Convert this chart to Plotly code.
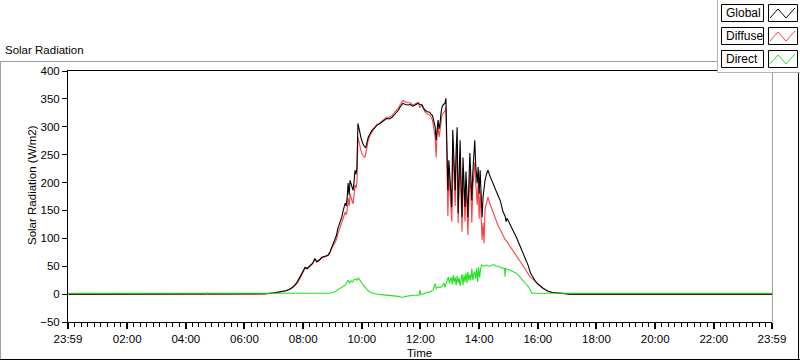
import plotly.graph_objects as go

# ---------------- data ----------------
global_time = ["00:00","06:40","06:50","07:00","07:13","07:25","07:33","07:38","07:43","07:48","07:54","07:58",
    "08:04","08:08","08:14","08:19","08:24","08:28","08:34","08:38","08:45","08:51","08:55","08:59",
    "09:05","09:08","09:11","09:15","09:19","09:22","09:26","09:28","09:30","09:32","09:34","09:36",
    "09:39","09:42","09:44","09:46","09:48","09:50","09:52","09:54","09:56","09:58","10:00","10:02",
    "10:05","10:08","10:10","10:13","10:17","10:21","10:26","10:31","10:36","10:41","10:46","10:51",
    "10:56","11:02","11:07","11:12","11:15","11:18","11:21","11:24","11:29","11:34","11:39","11:44",
    "11:49","11:55","11:59","12:03","12:06","12:09","12:14","12:19","12:22","12:24","12:26","12:28",
    "12:30","12:32","12:34","12:36","12:38","12:40","12:42","12:44","12:47","12:50","12:52","12:54",
    "12:56","12:58","13:00","13:02","13:04","13:06","13:08","13:11","13:13","13:15","13:17","13:19",
    "13:21","13:23","13:25","13:27","13:29","13:31","13:33","13:35","13:37","13:39","13:41","13:43",
    "13:45","13:47","13:49","13:51","13:53","13:56","13:58","14:00","14:02","14:04","14:06","14:08",
    "14:10","14:12","14:15","14:18","14:22","14:28","14:32","14:36","14:39","14:43","14:46","14:49",
    "14:53","14:55","14:57","15:02","15:07","15:12","15:17","15:22","15:28","15:34","15:40","15:45",
    "15:50","15:55","16:00","16:05","16:10","16:15","16:21","16:30","16:39","16:50","17:06","23:59"]
global_wm2 = [0,0,1,2,4,6,9,12,16,22,31,38,
    48,46,52,55,64,58,62,66,68,70,76,85,
    97,105,118,128,138,150,163,158,172,199,178,204,
    195,186,200,222,215,226,306,300,290,281,275,270,
    265,262,270,281,288,294,298,303,305,308,311,315,
    314,317,322,326,330,335,338,342,340,339,340,337,
    339,342,340,339,334,330,327,326,322,321,315,306,
    300,276,305,312,296,306,325,335,340,342,351,245,
    186,240,217,190,156,294,240,186,260,299,145,230,
    276,200,138,245,190,156,220,186,138,200,253,210,
    168,217,250,276,230,199,228,180,222,170,138,175,
    190,204,215,222,212,199,188,181,176,168,158,147,
    140,130,136,126,118,109,100,90,79,66,52,38,
    30,23,18,14,11,8,5,3,2,1,0,0]

diffuse_time = ["00:00","04:43","04:45","04:47","06:40","06:50","07:00","07:13","07:25","07:33","07:38","07:43",
    "07:48","07:54","07:58","08:04","08:08","08:14","08:19","08:24","08:28","08:34","08:38","08:45",
    "08:51","08:55","08:59","09:05","09:08","09:11","09:15","09:19","09:22","09:26","09:28","09:30",
    "09:32","09:34","09:36","09:39","09:42","09:44","09:46","09:48","09:50","09:52","09:54","09:56",
    "09:58","10:00","10:03","10:06","10:08","10:10","10:13","10:17","10:21","10:26","10:31","10:36",
    "10:41","10:46","10:51","10:56","11:02","11:07","11:12","11:15","11:18","11:21","11:24","11:29",
    "11:34","11:39","11:44","11:49","11:55","11:59","12:03","12:06","12:09","12:14","12:19","12:22",
    "12:24","12:26","12:28","12:30","12:32","12:34","12:36","12:38","12:40","12:42","12:44","12:47",
    "12:50","12:52","12:54","12:56","12:58","13:00","13:02","13:04","13:06","13:08","13:11","13:13",
    "13:15","13:17","13:19","13:21","13:23","13:25","13:27","13:29","13:31","13:33","13:35","13:37",
    "13:39","13:41","13:43","13:45","13:47","13:49","13:51","13:53","13:56","13:58","14:00","14:02",
    "14:04","14:06","14:08","14:10","14:12","14:15","14:18","14:22","14:28","14:32","14:36","14:39",
    "14:43","14:46","14:49","14:53","14:57","15:02","15:07","15:13","15:20","15:28","15:34","15:40",
    "15:44","15:50","15:55","16:00","16:05","16:10","16:15","16:21","16:30","16:39","16:50","17:06","23:59"]
diffuse_wm2 = [0,0,2,0,0,1,2,4,6,9,11,15,
    20,29,36,47,45,51,54,62,57,61,65,67,
    69,74,83,92,98,108,117,127,136,147,142,150,
    172,158,180,170,162,176,196,190,200,282,276,266,
    258,252,248,245,252,262,275,285,292,298,304,306,
    310,313,317,317,320,326,330,334,339,343,347,345,
    343,343,339,341,344,334,340,333,327,323,321,316,
    313,304,292,281,245,290,299,282,294,313,322,325,
    328,336,216,140,216,192,160,130,268,214,158,240,
    268,127,204,252,172,112,225,158,130,188,162,106,
    172,220,182,128,190,212,236,200,160,200,135,185,
    128,97,128,91,152,165,174,162,148,136,128,122,
    116,110,104,98,94,87,81,74,63,53,45,37,
    31,27,23,18,14,11,8,5,3,2,1,0,0]

direct_time = ["00:00","08:55","09:02","09:10","09:16","09:22","09:26","09:30","09:32","09:35","09:38","09:41",
    "09:44","09:48","09:50","09:53","09:56","10:00","10:03","10:08","10:13","10:18","10:24","10:40",
    "11:00","11:15","11:23","11:30","11:45","11:57","11:59","12:01","12:10","12:20","12:26","12:28",
    "12:30","12:32","12:36","12:40","12:44","12:48","12:50","12:52","12:55","12:57","12:59","13:01",
    "13:03","13:05","13:07","13:09","13:11","13:13","13:15","13:17","13:19","13:21","13:23","13:25",
    "13:27","13:29","13:31","13:33","13:35","13:37","13:39","13:41","13:43","13:45","13:47","13:49",
    "13:51","13:53","13:55","13:57","13:59","14:01","14:03","14:05","14:10","14:15","14:20","14:25",
    "14:30","14:35","14:40","14:46","14:52","14:53","14:54","15:00","15:05","15:10","15:17","15:23",
    "15:30","15:35","15:41","15:45","15:48","23:59"]
direct_wm2 = [1.5,1.5,3,7,11,13,16,22,25,20,24,22,
    26,27,25,29,24,20,16,10,6,3,1,-1,
    -2,-4,-6,-4,-2,-2,7,-1,2,4,8,13,
    19,10,13,12,14,20,12,18,26,31,20,24,
    30,18,34,22,30,16,33,20,29,15,26,36,
    16,34,22,38,20,40,25,35,25,46,25,38,
    40,28,46,22,48,30,45,52,50,52,50,52,
    53,50,50,47,46,31,46,44,42,40,37,31,
    25,19,13,6,1.5,1.5]

x_tick_hours = [-1/60, 2, 4, 6, 8, 10, 12, 14, 16, 18, 20, 22, 23 + 59/60]
x_tick_text = ["23:59", "02:00", "04:00", "06:00", "08:00", "10:00", "12:00",
               "14:00", "16:00", "18:00", "20:00", "22:00", "23:59"]
y_tick_vals = [-50, 0, 50, 100, 150, 200, 250, 300, 350, 400]
legend_names = ["Global", "Diffuse", "Direct"]
legend_colors = ["#000000", "#ff4040", "#1ee61e"]

# ---------------- helpers ----------------
def hours(s):
    h, m = s.split(":")
    return int(h) + int(m) / 60.0

W, H = 800, 361
L, R, T, B = 68, 28, 71, 39
PW, PH = W - L - R, H - T - B
FONT = "Liberation Sans, Arial, sans-serif"

def fx(x):
    return (x - L) / PW

def fy(y):
    return (H - B - y) / PH

fig = go.Figure()
fig.add_trace(go.Scatter(x=[hours(t) for t in diffuse_time], y=diffuse_wm2, mode="lines",
                         line=dict(color=legend_colors[1], width=1.1), name="Diffuse"))
fig.add_trace(go.Scatter(x=[hours(t) for t in global_time], y=global_wm2, mode="lines",
                         line=dict(color=legend_colors[0], width=1.1), name="Global"))
fig.add_trace(go.Scatter(x=[hours(t) for t in direct_time], y=direct_wm2, mode="lines",
                         line=dict(color=legend_colors[2], width=1.1), name="Direct"))

minor_vals = []
for a, b in zip(x_tick_hours[:-1], x_tick_hours[1:]):
    for k in range(1, 9):
        minor_vals.append(a + k * (b - a) / 9)

shapes = []
# outer frame
shapes.append(dict(type="line", xref="paper", yref="paper", x0=fx(0), x1=fx(717), y0=fy(61.5), y1=fy(61.5),
                   line=dict(color="#a0a0a0", width=1)))
shapes.append(dict(type="line", xref="paper", yref="paper", x0=fx(0.5), x1=fx(0.5), y0=fy(61.5), y1=fy(359),
                   line=dict(color="#a0a0a0", width=1)))
shapes.append(dict(type="line", xref="paper", yref="paper", x0=fx(0), x1=fx(800), y0=fy(359.5), y1=fy(359.5),
                   line=dict(color="#000000", width=1)))
shapes.append(dict(type="line", xref="paper", yref="paper", x0=fx(798.5), x1=fx(798.5), y0=fy(61), y1=fy(360),
                   line=dict(color="#000000", width=1)))
# right border of plot area
shapes.append(dict(type="line", xref="paper", yref="paper", x0=fx(772.5), x1=fx(772.5), y0=fy(71), y1=fy(322),
                   line=dict(color="#a0a0a0", width=1)))
# legend panel
shapes.append(dict(type="rect", xref="paper", yref="paper", x0=fx(717.5), x1=fx(801), y0=fy(72.5), y1=fy(-2),
                   line=dict(color="#b4b4b4", width=1), fillcolor="white"))

annotations = []
for i, (name, col) in enumerate(zip(legend_names, legend_colors)):
    y0 = 4 + i * 23
    y1 = y0 + 17
    shapes.append(dict(type="rect", xref="paper", yref="paper", x0=fx(721.5), x1=fx(763.5),
                       y0=fy(y1 + 0.5), y1=fy(y0 + 0.5), line=dict(color="black", width=1), fillcolor="white"))
    shapes.append(dict(type="rect", xref="paper", yref="paper", x0=fx(768.5), x1=fx(797.5),
                       y0=fy(y1 + 0.5), y1=fy(y0 + 0.5), line=dict(color="black", width=1), fillcolor="white"))
    pts = [(770, y0 + 14), (778, y0 + 5), (786, y0 + 14), (795, y0 + 4)]
    path = "M " + " L ".join(f"{fx(px):.5f},{fy(py):.5f}" for px, py in pts)
    shapes.append(dict(type="path", xref="paper", yref="paper", path=path, line=dict(color=col, width=1)))
    annotations.append(dict(x=fx(723.5), y=fy(y0 + 9), xref="paper", yref="paper", text=name,
                            showarrow=False, xanchor="left", yanchor="middle",
                            font=dict(family=FONT, size=12, color="black")))

annotations.append(dict(x=fx(3), y=fy(50), xref="paper", yref="paper", text="Solar Radiation",
                        showarrow=False, xanchor="left", yanchor="middle",
                        font=dict(family=FONT, size=11.5, color="black")))
annotations.append(dict(x=fx(32), y=fy(185), xref="paper", yref="paper", text="Solar Radiation (W/m2)",
                        showarrow=False, textangle=-90, xanchor="center", yanchor="middle",
                        font=dict(family=FONT, size=11.5, color="black")))
annotations.append(dict(x=fx(419), y=fy(353), xref="paper", yref="paper", text="Time",
                        showarrow=False, xanchor="center", yanchor="middle",
                        font=dict(family=FONT, size=11.5, color="black")))

fig.update_layout(
    width=W, height=H,
    margin=dict(l=L, r=R, t=T, b=B, pad=0),
    paper_bgcolor="white", plot_bgcolor="white",
    showlegend=False,
    font=dict(family=FONT, size=12, color="black"),
    shapes=shapes, annotations=annotations,
    xaxis=dict(range=[-1/60, 23 + 59/60], tickmode="array", tickvals=x_tick_hours, ticktext=x_tick_text,
               ticks="outside", ticklen=6, tickwidth=2, tickcolor="black",
               minor=dict(tickvals=minor_vals, ticks="outside", ticklen=4, tickwidth=1, tickcolor="black"),
               showline=True, linecolor="black", linewidth=1, mirror=True,
               showgrid=False, zeroline=False, tickfont=dict(family=FONT, size=11.5, color="black")),
    yaxis=dict(range=[-50, 400], tickmode="array", tickvals=y_tick_vals,
               ticks="outside", ticklen=5, tickwidth=1, tickcolor="black",
               showline=True, linecolor="black", linewidth=1,
               showgrid=False, zeroline=False, tickfont=dict(family=FONT, size=11.5, color="black")),
)

fig.write_html("out.html", config={"displayModeBar": False},
               post_script="document.body.style.margin='0';document.body.style.overflow='hidden';")
